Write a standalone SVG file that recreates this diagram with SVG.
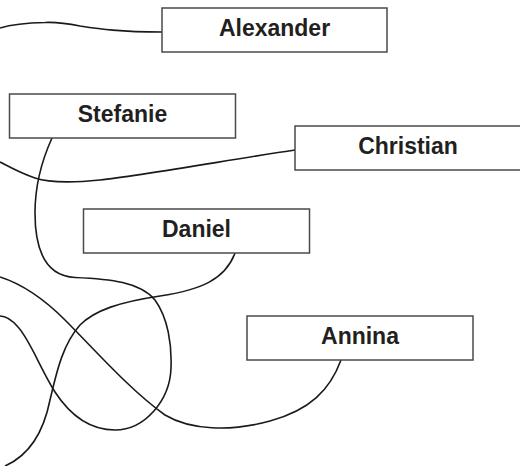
<svg xmlns="http://www.w3.org/2000/svg" width="520" height="466" viewBox="0 0 520 466">
<style>
.box{fill:#fff;stroke:#4a4a4a;stroke-width:1.5}
.lbl{font-family:"Liberation Sans",Arial,sans-serif;font-weight:bold;font-size:23px;fill:#231f20;text-anchor:middle}
.edge{fill:none;stroke:#1a1a1a;stroke-width:1.6}
</style>
<rect width="520" height="466" fill="#fff"/>
<g id="connectors">
<path class="edge" d="M162,32 C120,32 100,29 80,26 C65,23 55,22 45,22.5 C25,23 10,25 0,28"/>
<path class="edge" d="M295,150 C240,158 140,176 100,180 C70,183 50,183 35,178 C20,173 8,166 0,162"/>
<path class="edge" d="M52,138 C42,160 35,185 35,213 C35,250 45,276 75,277.5 C110,279 140,282 155,300 C168,318 172,345 171,368 C170,400 145,430 115,430 C90,430 70,415 55,392 C40,368 30,340 18,327 C12,320 5,316 0,316"/>
<path class="edge" d="M235,253 C225,280 200,290 160,296 C120,302 95,310 80,325 C62,345 56,375 50,400 C44,430 30,455 5,466"/>
<path class="edge" d="M341,360 C330,390 310,410 270,421 C230,432 190,430 165,415 C130,390 95,350 65,320 C45,300 25,285 0,277"/>
</g>
<g id="alexander"><rect class="box" x="162" y="8" width="225" height="44"/><text class="lbl" x="274.5" y="36">Alexander</text></g>
<g id="stefanie"><rect class="box" x="9.5" y="94" width="226" height="44"/><text class="lbl" x="122.5" y="122">Stefanie</text></g>
<g id="christian"><rect class="box" x="295" y="126" width="226" height="44"/><text class="lbl" x="408" y="154">Christian</text></g>
<g id="daniel"><rect class="box" x="83.5" y="209" width="226" height="44"/><text class="lbl" x="196.5" y="237">Daniel</text></g>
<g id="annina"><rect class="box" x="247" y="316" width="226" height="44"/><text class="lbl" x="360" y="344">Annina</text></g>
</svg>
